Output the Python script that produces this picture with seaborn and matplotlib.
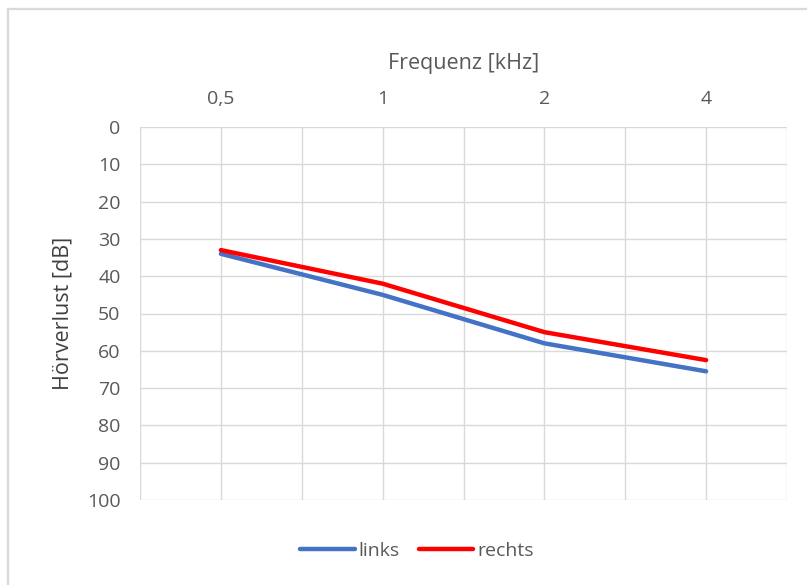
import numpy as np
import pandas as pd
import matplotlib
matplotlib.use("Agg")
import matplotlib.pyplot as plt
from matplotlib.lines import Line2D
import seaborn as sns

# Hearing loss per frequency, both ears
frequencies = ["0,5", "1", "2", "4"]
links = [34, 45, 58, 65.5]
rechts = [33, 42, 55, 62.5]
series_names = ["links", "rechts"]
y_ticks = [0, 10, 20, 30, 40, 50, 60, 70, 80, 90, 100]

df = pd.DataFrame({
    "pos": list(range(len(frequencies))) * 2,
    "Hörverlust": links + rechts,
    "Ohr": [series_names[0]] * len(frequencies) + [series_names[1]] * len(frequencies),
})

sns.set_theme(style="white")
plt.rcParams["font.family"] = ["Open Sans", "DejaVu Sans"]

fig = plt.figure(figsize=(8.07, 5.85), dpi=100)
ax = fig.add_axes([140 / 807, 1 - 500 / 585, (787 - 140) / 807, (500 - 127) / 585])

palette = {"links": "#4472C4", "rechts": "#FF0000"}
sns.lineplot(data=df, x="pos", y="Hörverlust", hue="Ohr", palette=palette,
             linewidth=3.2, ax=ax, legend=False, solid_capstyle="round")

ax.set_xlim(-0.5, len(frequencies) - 0.5)
ax.set_ylim(100, 0)
ax.xaxis.tick_top()
ax.xaxis.set_label_position("top")
ax.set_xticks(range(len(frequencies)))
ax.set_xticklabels(frequencies)
ax.set_xticks(np.arange(-0.5, len(frequencies), 0.5), minor=True)
ax.set_yticks(y_ticks)

grid_color = "#d9d9d9"
ax.grid(axis="y", which="major", color=grid_color, linewidth=1)
ax.grid(axis="x", which="both", color=grid_color, linewidth=1)
ax.set_axisbelow(True)
for side in ax.spines:
    ax.spines[side].set_visible(False)

ax.tick_params(axis="both", which="both", length=0, labelsize=14, labelcolor="#595959")
ax.tick_params(axis="x", pad=13.5)
ax.tick_params(axis="y", pad=14)
ax.set_xlabel("Frequenz [kHz]", fontsize=15.5, color="#595959", labelpad=15)
ax.set_ylabel("Hörverlust [dB]", fontsize=15.5, color="#404040", labelpad=10)

handles = [Line2D([0], [0], color=palette[n], linewidth=3.2, solid_capstyle="round")
           for n in series_names]
fig.legend(handles, series_names, loc="center", bbox_to_anchor=(417 / 807, 1 - 551 / 585),
           ncol=2, frameon=False, fontsize=14, labelcolor="#595959",
           handlelength=2.8, handletextpad=0.2, columnspacing=1.0)

# Chart frame (top and left edges)
fig.add_artist(Line2D([8 / 807, 1], [1 - 9 / 585, 1 - 9 / 585], color="#d9d9d9",
                      linewidth=1.6, transform=fig.transFigure))
fig.add_artist(Line2D([8 / 807, 8 / 807], [0, 1 - 9 / 585], color="#d9d9d9",
                      linewidth=1.6, transform=fig.transFigure))

fig.savefig("out.png", dpi=100, facecolor="white")
